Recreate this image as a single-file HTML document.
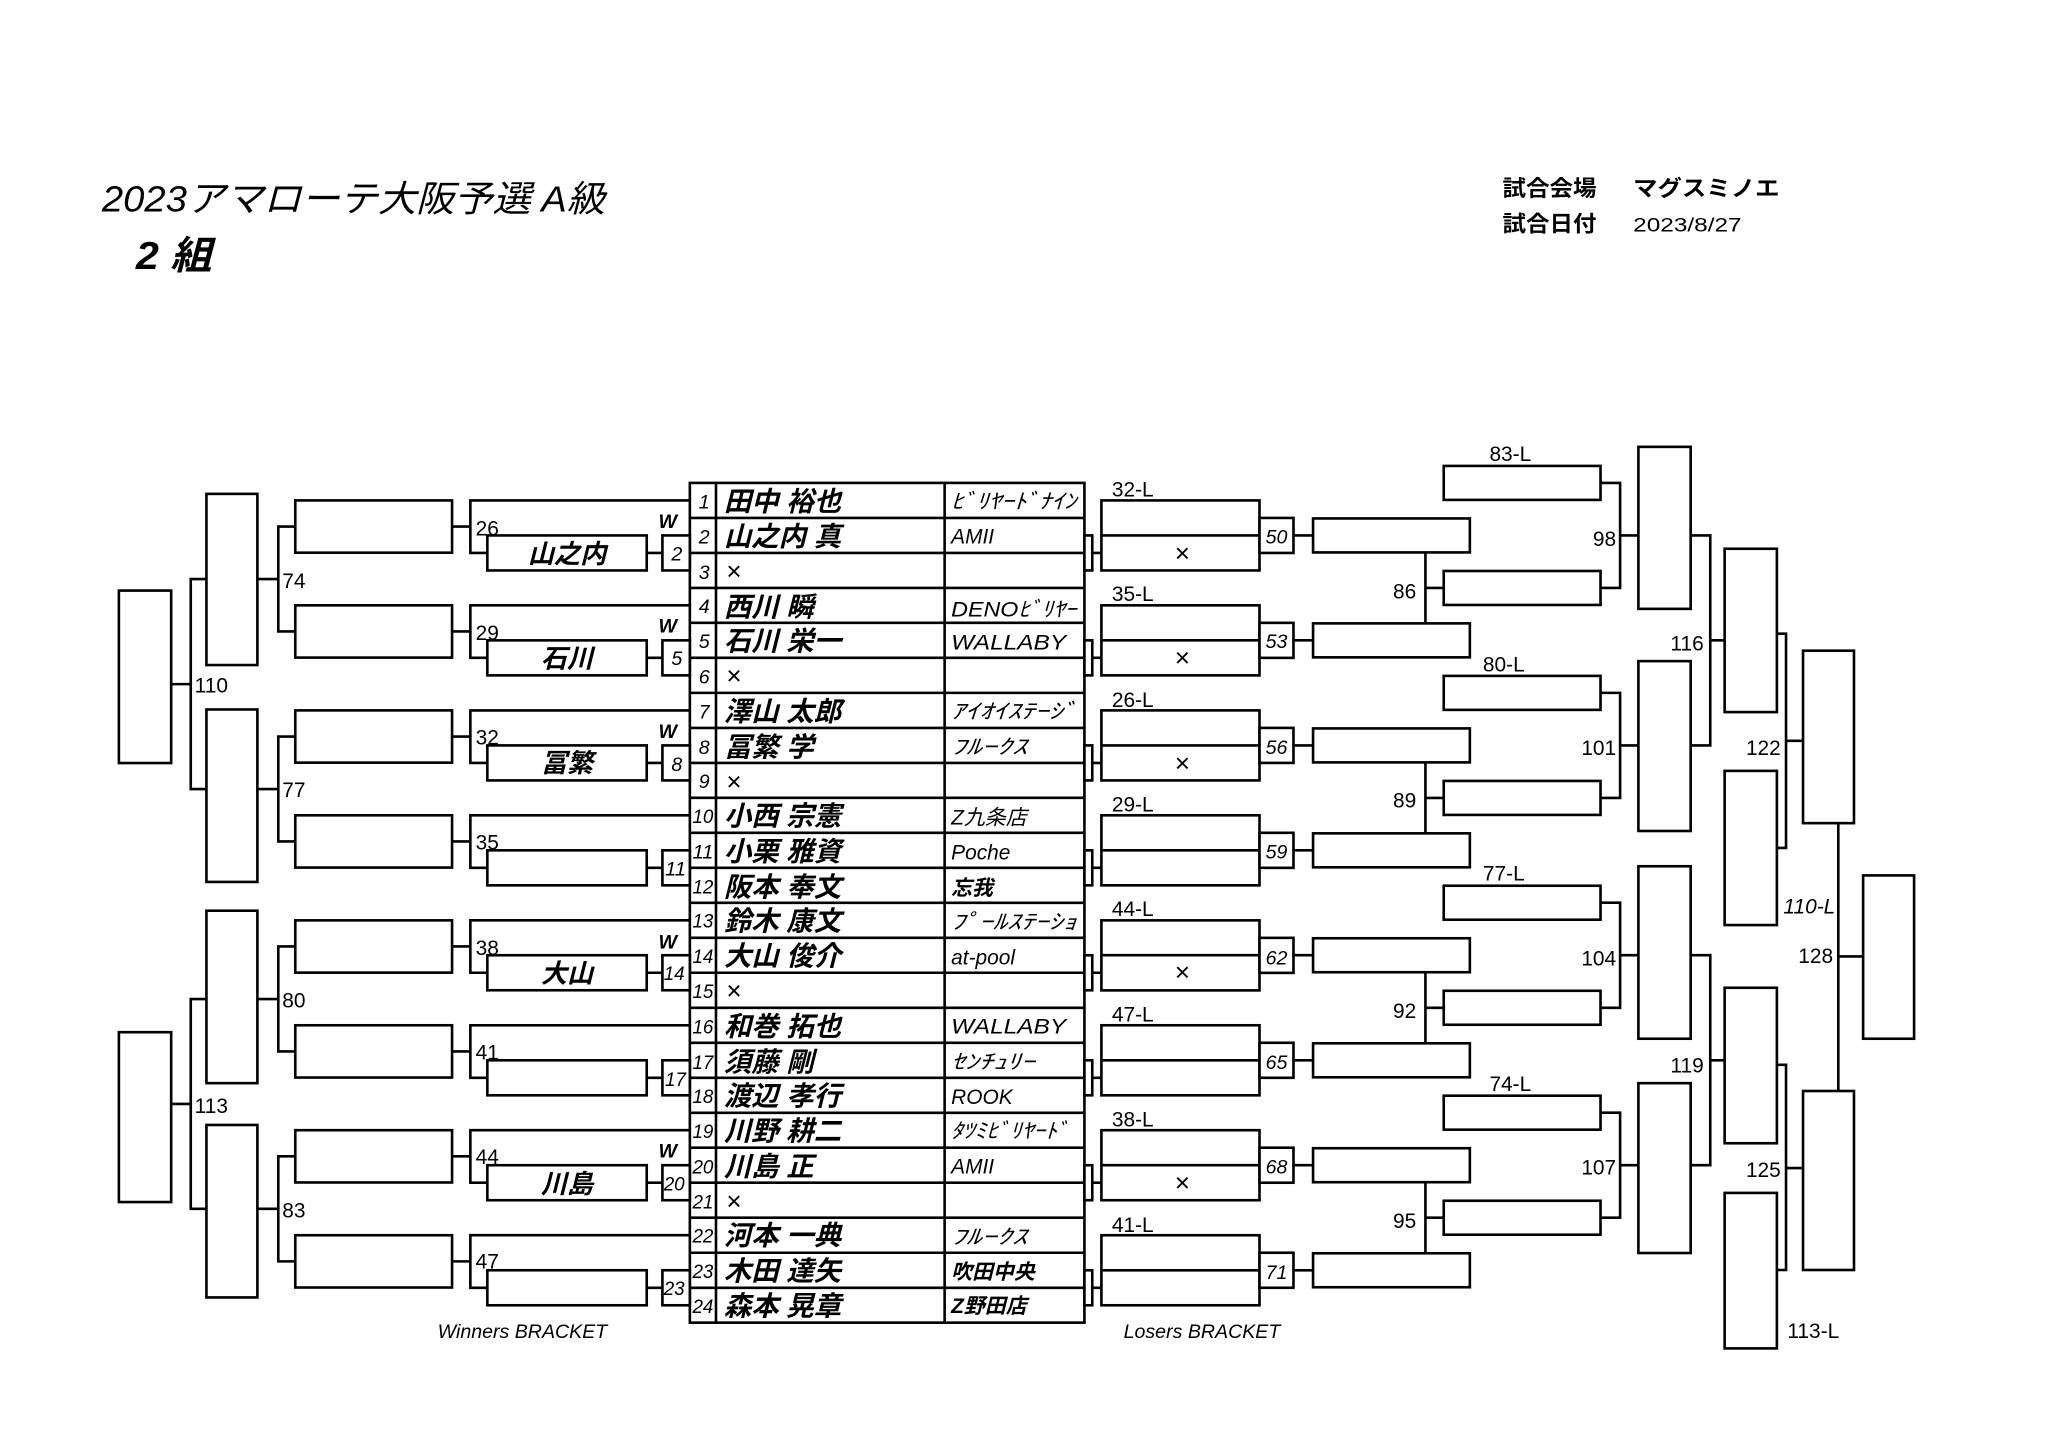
<!DOCTYPE html>
<html><head><meta charset="utf-8"><style>
html,body{margin:0;padding:0;background:#fff;}
svg{display:block;}
.l{stroke:#000;stroke-width:2;fill:none;}
.r{stroke:#000;stroke-width:2;fill:#fff;}
text{font-family:"Liberation Sans","Noto Sans CJK JP",sans-serif;fill:#000;}
.n{font-size:16px;}
.it{font-style:italic;}
.nm{font-size:21px;font-weight:bold;font-style:italic;}
.cl{font-size:16px;font-style:italic;font-family:"Liberation Serif","Noto Sans CJK JP",serif;}
.no{font-size:15px;font-style:italic;}
.x{font-size:20px;fill:#555;}
</style></head><body>
<svg width="2048" height="1449" viewBox="0 0 1567.5 1109" preserveAspectRatio="none" xmlns="http://www.w3.org/2000/svg">
<!-- header -->
<text x="78" y="162" style="font-size:28px;font-style:italic" textLength="385" lengthAdjust="spacingAndGlyphs">2023アマローテ大阪予選 A級</text>
<text x="104" y="206" style="font-size:30px;font-style:italic;font-weight:bold" textLength="58" lengthAdjust="spacingAndGlyphs">2 組</text>
<text x="1150" y="150" style="font-size:17px;font-weight:bold" textLength="72" lengthAdjust="spacingAndGlyphs">試合会場</text>
<text x="1250" y="150" style="font-size:17px;font-weight:bold" textLength="112" lengthAdjust="spacingAndGlyphs">マグスミノエ</text>
<text x="1150" y="177" style="font-size:17px;font-weight:bold" textLength="72" lengthAdjust="spacingAndGlyphs">試合日付</text>
<text x="1250" y="177" style="font-size:15px" textLength="83" lengthAdjust="spacingAndGlyphs">2023/8/27</text>

<!-- table -->
<rect class="r" x="528" y="369.6" width="302" height="642.7"/>
<g class="l">
<line x1="548" y1="369.6" x2="548" y2="1012.3"/><line x1="723" y1="369.6" x2="723" y2="1012.3"/>
<line x1="528" y1="396.4" x2="830" y2="396.4"/><line x1="528" y1="423.2" x2="830" y2="423.2"/><line x1="528" y1="450" x2="830" y2="450"/><line x1="528" y1="476.7" x2="830" y2="476.7"/><line x1="528" y1="503.5" x2="830" y2="503.5"/><line x1="528" y1="530.3" x2="830" y2="530.3"/><line x1="528" y1="557.1" x2="830" y2="557.1"/><line x1="528" y1="583.9" x2="830" y2="583.9"/><line x1="528" y1="610.6" x2="830" y2="610.6"/><line x1="528" y1="637.4" x2="830" y2="637.4"/><line x1="528" y1="664.2" x2="830" y2="664.2"/><line x1="528" y1="691" x2="830" y2="691"/><line x1="528" y1="717.8" x2="830" y2="717.8"/><line x1="528" y1="744.5" x2="830" y2="744.5"/><line x1="528" y1="771.3" x2="830" y2="771.3"/><line x1="528" y1="798.1" x2="830" y2="798.1"/><line x1="528" y1="824.9" x2="830" y2="824.9"/><line x1="528" y1="851.7" x2="830" y2="851.7"/><line x1="528" y1="878.4" x2="830" y2="878.4"/><line x1="528" y1="905.2" x2="830" y2="905.2"/><line x1="528" y1="932" x2="830" y2="932"/><line x1="528" y1="958.8" x2="830" y2="958.8"/><line x1="528" y1="985.6" x2="830" y2="985.6"/>
</g>
<g class="no" text-anchor="middle">
<text x="539" y="389">1</text><text x="539" y="416">2</text><text x="539" y="443">3</text><text x="539" y="469">4</text><text x="539" y="496">5</text><text x="539" y="523">6</text><text x="539" y="550">7</text><text x="539" y="577">8</text><text x="539" y="603">9</text><text x="538" y="630" textLength="16" lengthAdjust="spacingAndGlyphs">10</text><text x="538" y="657" textLength="16" lengthAdjust="spacingAndGlyphs">11</text><text x="538" y="684" textLength="16" lengthAdjust="spacingAndGlyphs">12</text><text x="538" y="710" textLength="16" lengthAdjust="spacingAndGlyphs">13</text><text x="538" y="737" textLength="16" lengthAdjust="spacingAndGlyphs">14</text><text x="538" y="764" textLength="16" lengthAdjust="spacingAndGlyphs">15</text><text x="538" y="791" textLength="16" lengthAdjust="spacingAndGlyphs">16</text><text x="538" y="818" textLength="16" lengthAdjust="spacingAndGlyphs">17</text><text x="538" y="844" textLength="16" lengthAdjust="spacingAndGlyphs">18</text><text x="538" y="871" textLength="16" lengthAdjust="spacingAndGlyphs">19</text><text x="538" y="898" textLength="16" lengthAdjust="spacingAndGlyphs">20</text><text x="538" y="925" textLength="16" lengthAdjust="spacingAndGlyphs">21</text><text x="538" y="951" textLength="16" lengthAdjust="spacingAndGlyphs">22</text><text x="538" y="978" textLength="16" lengthAdjust="spacingAndGlyphs">23</text><text x="538" y="1005" textLength="16" lengthAdjust="spacingAndGlyphs">24</text>
</g>
<g class="nm">
<text x="554" y="391">田中 裕也</text><text x="554" y="418">山之内 真</text><text x="554" y="472">西川 瞬</text><text x="554" y="498">石川 栄一</text><text x="554" y="552">澤山 太郎</text><text x="554" y="579">冨繁 学</text><text x="554" y="632">小西 宗憲</text><text x="554" y="659">小栗 雅資</text><text x="554" y="686">阪本 奉文</text><text x="554" y="712">鈴木 康文</text><text x="554" y="739">大山 俊介</text><text x="554" y="793">和巻 拓也</text><text x="554" y="820">須藤 剛</text><text x="554" y="846">渡辺 孝行</text><text x="554" y="873">川野 耕二</text><text x="554" y="900">川島 正</text><text x="554" y="953">河本 一典</text><text x="554" y="980">木田 達矢</text><text x="554" y="1007">森本 晃章</text>
</g>
<g class="x">
<text x="556" y="444">×</text><text x="556" y="524">×</text><text x="556" y="605">×</text><text x="556" y="765">×</text><text x="556" y="926">×</text>
</g>
<g class="cl">
<text x="728" y="389" textLength="96" lengthAdjust="spacingAndGlyphs">ﾋﾞﾘﾔｰﾄﾞﾅｲﾝ</text>
<text x="728" y="416">AMII</text>
<text x="728" y="472" textLength="96" lengthAdjust="spacingAndGlyphs">DENOﾋﾞﾘﾔｰ</text>
<text x="728" y="497" textLength="88" lengthAdjust="spacingAndGlyphs">WALLABY</text>
<text x="728" y="550" textLength="96" lengthAdjust="spacingAndGlyphs">ｱｲｵｲｽﾃｰｼﾞ</text>
<text x="728" y="577" textLength="58" lengthAdjust="spacingAndGlyphs">ﾌﾙｰｸｽ</text>
<text x="728" y="631">Z九条店</text>
<text x="728" y="658">Poche</text>
<text x="728" y="685" style="font-weight:bold">忘我</text>
<text x="728" y="711" textLength="96" lengthAdjust="spacingAndGlyphs">ﾌﾟｰﾙｽﾃｰｼｮ</text>
<text x="728" y="738">at-pool</text>
<text x="728" y="791" textLength="88" lengthAdjust="spacingAndGlyphs">WALLABY</text>
<text x="728" y="818" textLength="64" lengthAdjust="spacingAndGlyphs">ｾﾝﾁｭﾘｰ</text>
<text x="728" y="845">ROOK</text>
<text x="728" y="871" textLength="90" lengthAdjust="spacingAndGlyphs">ﾀﾂﾐﾋﾞﾘﾔｰﾄﾞ</text>
<text x="728" y="898">AMII</text>
<text x="728" y="952" textLength="58" lengthAdjust="spacingAndGlyphs">ﾌﾙｰｸｽ</text>
<text x="728" y="979" style="font-weight:bold">吹田中央</text>
<text x="728" y="1005" style="font-weight:bold">Z野田店</text>
</g>

<!-- winners bracket triples -->
<g class="l">
<path d="M528 383H360V423.2H373 M346 403H360 M495 423.2H507"/>
<path d="M528 463.3H360V503.5H373 M346 483.3H360 M495 503.5H507"/>
<path d="M528 543.7H360V583.9H373 M346 563.7H360 M495 583.9H507"/>
<path d="M528 624H360V664.2H373 M346 644H360 M495 664.2H507"/>
<path d="M528 704.4H360V744.5H373 M346 724.4H360 M495 744.5H507"/>
<path d="M528 784.7H360V824.9H373 M346 804.7H360 M495 824.9H507"/>
<path d="M528 865H360V905.2H373 M346 885H360 M495 905.2H507"/>
<path d="M528 945.4H360V985.6H373 M346 965.4H360 M495 985.6H507"/>
<!-- level 2 -->
<path d="M226 403H213V483.3H226 M197 443.2H213"/>
<path d="M226 563.7H213V644H226 M197 603.9H213"/>
<path d="M226 724.4H213V804.7H226 M197 764.6H213"/>
<path d="M226 885H213V965.4H226 M197 925.2H213"/>
<path d="M158 443.2H146V603.9H158 M131 523.6H146"/>
<path d="M158 764.6H146V925.2H158 M131 844.9H146"/>
</g>
<g>
<rect class="r" x="373" y="409.8" width="122" height="26.8"/><rect class="r" x="507" y="409.8" width="21" height="26.8"/><rect class="r" x="226" y="383" width="120" height="40"/>
<rect class="r" x="373" y="490.1" width="122" height="26.8"/><rect class="r" x="507" y="490.1" width="21" height="26.8"/><rect class="r" x="226" y="463.3" width="120" height="40"/>
<rect class="r" x="373" y="570.5" width="122" height="26.8"/><rect class="r" x="507" y="570.5" width="21" height="26.8"/><rect class="r" x="226" y="543.7" width="120" height="40"/>
<rect class="r" x="373" y="650.8" width="122" height="26.8"/><rect class="r" x="507" y="650.8" width="21" height="26.8"/><rect class="r" x="226" y="624" width="120" height="40"/>
<rect class="r" x="373" y="731.1" width="122" height="26.8"/><rect class="r" x="507" y="731.1" width="21" height="26.8"/><rect class="r" x="226" y="704.4" width="120" height="40"/>
<rect class="r" x="373" y="811.5" width="122" height="26.8"/><rect class="r" x="507" y="811.5" width="21" height="26.8"/><rect class="r" x="226" y="784.7" width="120" height="40"/>
<rect class="r" x="373" y="891.8" width="122" height="26.8"/><rect class="r" x="507" y="891.8" width="21" height="26.8"/><rect class="r" x="226" y="865" width="120" height="40"/>
<rect class="r" x="373" y="972.2" width="122" height="26.8"/><rect class="r" x="507" y="972.2" width="21" height="26.8"/><rect class="r" x="226" y="945.4" width="120" height="40"/>
<rect class="r" x="158" y="378" width="39" height="131"/>
<rect class="r" x="158" y="543" width="39" height="132"/>
<rect class="r" x="158" y="697" width="39" height="132"/>
<rect class="r" x="158" y="861" width="39" height="132"/>
<rect class="r" x="91" y="452" width="40" height="132"/>
<rect class="r" x="91" y="790" width="40" height="130"/>
</g>
<g class="n">
<text x="364" y="410">26</text><text x="364" y="490">29</text><text x="364" y="570">32</text><text x="364" y="650">35</text><text x="364" y="731">38</text><text x="364" y="811">41</text><text x="364" y="891">44</text><text x="364" y="971">47</text>
<text x="216" y="450">74</text><text x="216" y="610">77</text><text x="216" y="771">80</text><text x="216" y="932">83</text>
<text x="149" y="530">110</text><text x="149" y="852">113</text>
</g>
<g class="nm" text-anchor="middle" style="font-size:20px">
<text x="434" y="431">山之内</text><text x="434" y="511">石川</text><text x="434" y="591">冨繁</text><text x="434" y="752">大山</text><text x="434" y="913">川島</text>
</g>
<g class="no" text-anchor="middle">
<text x="518" y="429">2</text><text x="518" y="509">5</text><text x="518" y="590">8</text><text x="517" y="670" textLength="16" lengthAdjust="spacingAndGlyphs">11</text><text x="516" y="750" textLength="16" lengthAdjust="spacingAndGlyphs">14</text><text x="517" y="831" textLength="16" lengthAdjust="spacingAndGlyphs">17</text><text x="516" y="911" textLength="16" lengthAdjust="spacingAndGlyphs">20</text><text x="516" y="991" textLength="16" lengthAdjust="spacingAndGlyphs">23</text>
</g>
<g style="font-size:15px;font-weight:bold;font-style:italic">
<text x="504" y="404">W</text><text x="504" y="484">W</text><text x="504" y="565">W</text><text x="504" y="726">W</text><text x="504" y="886">W</text>
</g>
<text x="335" y="1024" class="it" style="font-size:15px">Winners BRACKET</text>

<!-- losers bracket -->
<g class="l">
<path d="M836 423.2H843 M990 409.8H1005"/>
<path d="M836 503.5H843 M990 490.1H1005"/>
<path d="M836 583.9H843 M990 570.5H1005"/>
<path d="M836 664.2H843 M990 650.8H1005"/>
<path d="M836 744.5H843 M990 731.1H1005"/>
<path d="M836 824.9H843 M990 811.5H1005"/>
<path d="M836 905.2H843 M990 891.8H1005"/>
<path d="M836 985.6H843 M990 972.2H1005"/>
<path d="M1091 422.8V477.1 M1091 450H1105"/>
<path d="M1091 583.5V637.8 M1091 610.7H1105"/>
<path d="M1091 744.1V798.5 M1091 771.3H1105"/>
<path d="M1091 904.8V959.2 M1091 932H1105"/>
<path d="M1225 369.6H1240V450H1225 M1240 409.8H1254"/>
<path d="M1225 530.3H1240V610.7H1225 M1240 570.5H1254"/>
<path d="M1225 690.9H1240V771.3H1225 M1240 731.1H1254"/>
<path d="M1225 851.6H1240V932H1225 M1240 891.8H1254"/>
<path d="M1294 409.8H1309V570.5H1294 M1309 490.1H1320"/>
<path d="M1294 731.1H1309V891.8H1294 M1309 811.5H1320"/>
<path d="M1360 485H1367V649H1360 M1367 567H1380"/>
<path d="M1360 815H1367V972H1360 M1367 894H1380"/>
<path d="M1407 630V835 M1407 732H1426"/>
</g>
<g>
<rect class="r" x="830" y="409.8" width="6" height="26.8"/><rect class="r" x="843" y="383" width="121" height="53.6"/><rect class="r" x="964" y="396.4" width="26" height="26.8"/><rect class="r" x="1005" y="396.8" width="120" height="26"/>
<rect class="r" x="830" y="490.1" width="6" height="26.8"/><rect class="r" x="843" y="463.3" width="121" height="53.6"/><rect class="r" x="964" y="476.7" width="26" height="26.8"/><rect class="r" x="1005" y="477.1" width="120" height="26"/>
<rect class="r" x="830" y="570.5" width="6" height="26.8"/><rect class="r" x="843" y="543.7" width="121" height="53.6"/><rect class="r" x="964" y="557.1" width="26" height="26.8"/><rect class="r" x="1005" y="557.5" width="120" height="26"/>
<rect class="r" x="830" y="650.8" width="6" height="26.8"/><rect class="r" x="843" y="624" width="121" height="53.6"/><rect class="r" x="964" y="637.4" width="26" height="26.8"/><rect class="r" x="1005" y="637.8" width="120" height="26"/>
<rect class="r" x="830" y="731.1" width="6" height="26.8"/><rect class="r" x="843" y="704.4" width="121" height="53.6"/><rect class="r" x="964" y="717.8" width="26" height="26.8"/><rect class="r" x="1005" y="718.1" width="120" height="26"/>
<rect class="r" x="830" y="811.5" width="6" height="26.8"/><rect class="r" x="843" y="784.7" width="121" height="53.6"/><rect class="r" x="964" y="798.1" width="26" height="26.8"/><rect class="r" x="1005" y="798.5" width="120" height="26"/>
<rect class="r" x="830" y="891.8" width="6" height="26.8"/><rect class="r" x="843" y="865" width="121" height="53.6"/><rect class="r" x="964" y="878.4" width="26" height="26.8"/><rect class="r" x="1005" y="878.8" width="120" height="26"/>
<rect class="r" x="830" y="972.2" width="6" height="26.8"/><rect class="r" x="843" y="945.4" width="121" height="53.6"/><rect class="r" x="964" y="958.8" width="26" height="26.8"/><rect class="r" x="1005" y="959.2" width="120" height="26"/>
</g>
<g class="l">
<line x1="843" y1="409.8" x2="964" y2="409.8"/><line x1="843" y1="490.1" x2="964" y2="490.1"/><line x1="843" y1="570.5" x2="964" y2="570.5"/><line x1="843" y1="650.8" x2="964" y2="650.8"/><line x1="843" y1="731.1" x2="964" y2="731.1"/><line x1="843" y1="811.5" x2="964" y2="811.5"/><line x1="843" y1="891.8" x2="964" y2="891.8"/><line x1="843" y1="972.2" x2="964" y2="972.2"/>
</g>
<g>
<rect class="r" x="1105" y="356.6" width="120" height="26"/><rect class="r" x="1105" y="437" width="120" height="26"/>
<rect class="r" x="1105" y="517.3" width="120" height="26"/><rect class="r" x="1105" y="597.7" width="120" height="26"/>
<rect class="r" x="1105" y="677.9" width="120" height="26"/><rect class="r" x="1105" y="758.3" width="120" height="26"/>
<rect class="r" x="1105" y="838.6" width="120" height="26"/><rect class="r" x="1105" y="919" width="120" height="26"/>
<rect class="r" x="1254" y="342" width="40" height="124"/>
<rect class="r" x="1254" y="506" width="40" height="130"/>
<rect class="r" x="1254" y="663" width="40" height="132"/>
<rect class="r" x="1254" y="829" width="40" height="130"/>
<rect class="r" x="1320" y="420" width="40" height="125"/>
<rect class="r" x="1320" y="590" width="40" height="118"/>
<rect class="r" x="1320" y="756" width="40" height="119"/>
<rect class="r" x="1320" y="913" width="40" height="119"/>
<rect class="r" x="1380" y="498" width="39" height="132"/>
<rect class="r" x="1380" y="835" width="39" height="137"/>
<rect class="r" x="1426" y="670" width="39" height="125"/>
</g>
<g class="n">
<text x="851" y="380">32-L</text><text x="851" y="460">35-L</text><text x="851" y="541">26-L</text><text x="851" y="621">29-L</text><text x="851" y="701">44-L</text><text x="851" y="782">47-L</text><text x="851" y="862">38-L</text><text x="851" y="943">41-L</text>
<text x="1140" y="353">83-L</text><text x="1135" y="514">80-L</text><text x="1135" y="674">77-L</text><text x="1140" y="835">74-L</text>
<g text-anchor="end">
<text x="1084" y="458">86</text><text x="1084" y="618">89</text><text x="1084" y="779">92</text><text x="1084" y="940">95</text>
<text x="1237" y="418">98</text><text x="1237" y="578">101</text><text x="1237" y="739">104</text><text x="1237" y="899">107</text>
<text x="1304" y="498">116</text><text x="1304" y="821">119</text>
<text x="1363" y="578">122</text><text x="1363" y="901">125</text>
<text x="1403" y="737">128</text>
</g>
<text x="1365" y="699" class="it">110-L</text>
<text x="1368" y="1024">113-L</text>
</g>
<g class="x" text-anchor="middle" style="fill:#000">
<text x="905" y="430">×</text><text x="905" y="510">×</text><text x="905" y="591">×</text><text x="905" y="751">×</text><text x="905" y="912">×</text>
</g>
<g class="no" text-anchor="middle">
<text x="977" y="416">50</text><text x="977" y="496">53</text><text x="977" y="577">56</text><text x="977" y="657">59</text><text x="977" y="738">62</text><text x="977" y="818">65</text><text x="977" y="898">68</text><text x="977" y="979">71</text>
</g>
<text x="860" y="1024" class="it" style="font-size:15px">Losers BRACKET</text>
</svg>
</body></html>
